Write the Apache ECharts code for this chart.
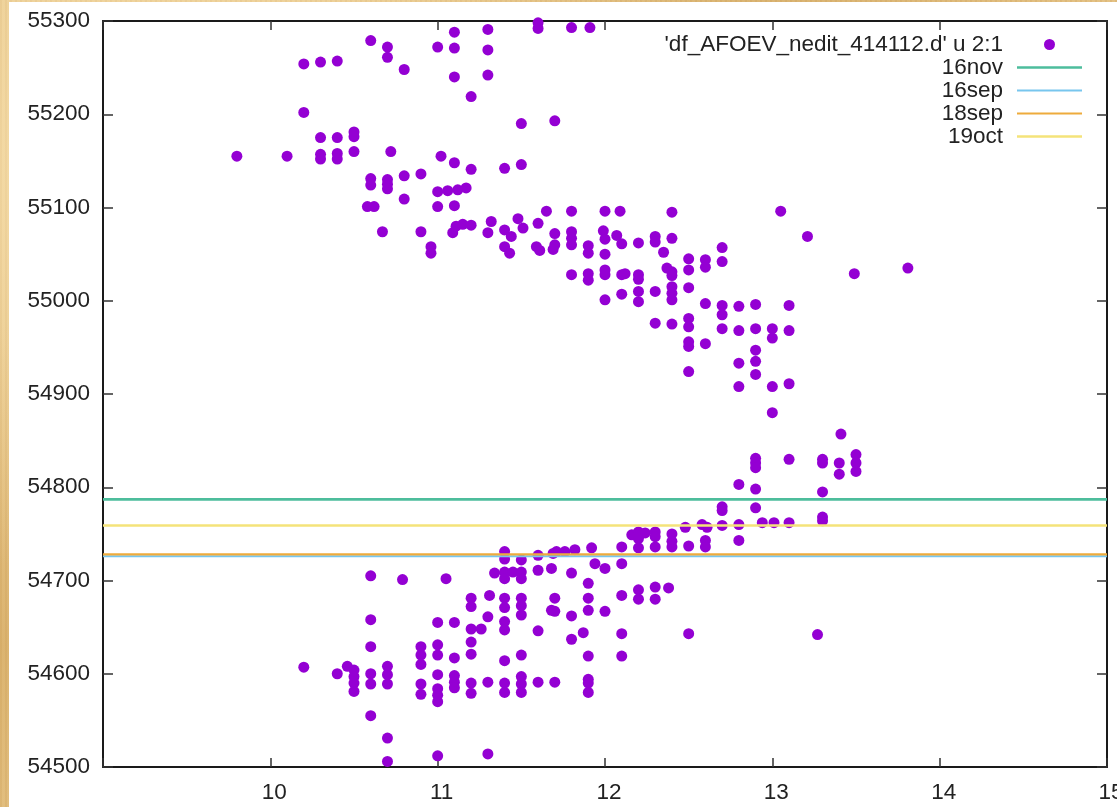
<!DOCTYPE html>
<html>
<head>
<meta charset="utf-8">
<title>414112 light curve</title>
<script src="https://cdn.jsdelivr.net/npm/echarts@6/dist/echarts.min.js"></script>
<style>
  html, body { margin: 0; padding: 0; width: 1117px; height: 807px; overflow: hidden; }
  body {
    background-color: #e6c487;
    background-image:
      radial-gradient(ellipse at 10% 20%, rgba(255, 236, 190, 0.55), rgba(255, 236, 190, 0) 45%),
      radial-gradient(ellipse at 70% 5%, rgba(190, 140, 60, 0.35), rgba(190, 140, 60, 0) 40%),
      radial-gradient(ellipse at 0% 80%, rgba(200, 150, 70, 0.4), rgba(200, 150, 70, 0) 35%),
      repeating-linear-gradient(90deg, rgba(160, 110, 40, 0.08) 0 2px, rgba(255, 240, 200, 0.08) 2px 5px);
  }
  #chart { position: absolute; left: 9px; top: 2px; width: 1108px; height: 805px; background: #ffffff; }
</style>
</head>
<body>
<div id="chart"></div>
<script>
// Axis ranges (magnitude on x, JD - 2400000 on y)
const xRange = [9, 15];
const yRange = [54500, 55300];

// Reference levels drawn as horizontal lines
const levelNames = ['16nov', '16sep', '18sep', '19oct'];
const levelValues = [54787, 54726, 54728, 54759];
const levelColors = ['#4dbd9c', '#78c6ee', '#eeab3c', '#f4e37a'];
const levelWidths = [2.6, 2, 2.2, 2.6];

const dataName = "'df_AFOEV_nedit_414112.d' u 2:1";

// Observations: [magnitude, JD]
const observations = [
  // descending branch
  [9.8, 55155],
  [10.1, 55155],
  [10.2, 55254], [10.2, 55202],
  [10.3, 55256], [10.3, 55175], [10.3, 55157], [10.3, 55152],
  [10.4, 55257], [10.4, 55175], [10.4, 55158], [10.4, 55152],
  [10.5, 55181], [10.5, 55176], [10.5, 55160],
  [10.6, 55279], [10.6, 55131], [10.6, 55124], [10.58, 55101], [10.62, 55101],
  [10.67, 55074],
  [10.7, 55272], [10.7, 55261], [10.72, 55160], [10.7, 55130], [10.7, 55125], [10.7, 55120],
  [10.8, 55248], [10.8, 55134], [10.8, 55109],
  [10.9, 55136], [10.9, 55074],
  [10.96, 55058], [10.96, 55051],
  [11.0, 55272], [11.02, 55155], [11.0, 55117], [11.0, 55101],
  [11.06, 55118], [11.12, 55119], [11.17, 55121],
  [11.1, 55288], [11.1, 55271], [11.1, 55240], [11.1, 55148], [11.1, 55102],
  [11.09, 55073], [11.11, 55080], [11.15, 55082],
  [11.2, 55219], [11.2, 55141], [11.2, 55081],
  [11.3, 55291], [11.3, 55269], [11.3, 55242], [11.32, 55085], [11.3, 55073],
  [11.4, 55142], [11.4, 55076], [11.44, 55069], [11.4, 55058], [11.43, 55051],
  [11.48, 55088], [11.5, 55190], [11.5, 55146], [11.51, 55078],
  [11.6, 55298], [11.6, 55292], [11.6, 55083], [11.59, 55058], [11.61, 55054],
  [11.65, 55096],
  [11.7, 55193], [11.7, 55072], [11.7, 55060], [11.69, 55055],
  [11.8, 55293], [11.8, 55096], [11.8, 55074], [11.8, 55067], [11.8, 55060], [11.8, 55028],
  [11.91, 55293], [11.9, 55059], [11.9, 55051], [11.9, 55029], [11.9, 55022],
  [12.0, 55096], [11.99, 55075], [12.0, 55066], [12.0, 55050], [12.0, 55033], [12.0, 55028], [12.0, 55001],
  [12.09, 55096], [12.07, 55070], [12.1, 55061], [12.1, 55028], [12.12, 55029], [12.1, 55007],
  [12.2, 55062], [12.2, 55028], [12.2, 55023], [12.2, 55010], [12.2, 54999],
  [12.3, 55069], [12.3, 55063], [12.35, 55052], [12.3, 55010], [12.3, 54976],
  [12.4, 55095], [12.4, 55067], [12.37, 55035], [12.4, 55031], [12.4, 55027], [12.4, 55015], [12.4, 55008], [12.4, 55001], [12.4, 54975],
  [12.5, 55045], [12.5, 55033], [12.5, 55014], [12.5, 54981], [12.5, 54972], [12.5, 54956], [12.5, 54951], [12.5, 54924],
  [12.6, 55044], [12.6, 55036], [12.6, 54997], [12.6, 54954],
  [12.7, 55057], [12.7, 55042], [12.7, 54995], [12.7, 54985], [12.7, 54970],
  [12.8, 54994], [12.8, 54968], [12.8, 54933], [12.8, 54908],
  [12.9, 54996], [12.9, 54970], [12.9, 54947], [12.9, 54935], [12.9, 54921],
  [13.0, 54970], [13.0, 54960], [13.0, 54908], [13.0, 54880],
  [13.05, 55096],
  [13.1, 54995], [13.1, 54968], [13.1, 54911],
  [13.21, 55069],
  [13.49, 55029],
  [13.81, 55035],
  // rising branch
  [10.2, 54607],
  [10.4, 54600], [10.46, 54608],
  [10.5, 54604], [10.5, 54597], [10.5, 54590], [10.5, 54581],
  [10.6, 54705], [10.6, 54658], [10.6, 54629], [10.6, 54600], [10.6, 54589], [10.6, 54555],
  [10.7, 54608], [10.7, 54599], [10.7, 54589], [10.7, 54531], [10.7, 54506],
  [10.79, 54701],
  [10.9, 54629], [10.9, 54620], [10.9, 54610], [10.9, 54589], [10.9, 54578],
  [11.0, 54655], [11.0, 54631], [11.0, 54620], [11.0, 54599], [11.0, 54584], [11.0, 54577], [11.0, 54570], [11.0, 54512],
  [11.05, 54702],
  [11.1, 54655], [11.1, 54617], [11.1, 54598], [11.1, 54591], [11.1, 54585],
  [11.2, 54681], [11.2, 54672], [11.2, 54648], [11.26, 54648], [11.2, 54634], [11.2, 54621], [11.2, 54590], [11.2, 54579],
  [11.34, 54708], [11.31, 54684], [11.3, 54661], [11.3, 54591], [11.3, 54514],
  [11.4, 54731], [11.4, 54723], [11.4, 54709], [11.4, 54702], [11.4, 54681], [11.4, 54671], [11.4, 54656], [11.4, 54647], [11.4, 54614], [11.4, 54590], [11.4, 54580],
  [11.45, 54709],
  [11.5, 54722], [11.5, 54709], [11.5, 54702], [11.5, 54681], [11.5, 54673], [11.5, 54663], [11.5, 54620], [11.5, 54597], [11.5, 54589], [11.5, 54580],
  [11.6, 54727], [11.6, 54711], [11.6, 54646], [11.6, 54591],
  [11.69, 54729], [11.71, 54731], [11.68, 54713],
  [11.7, 54681], [11.68, 54668], [11.7, 54667], [11.7, 54591],
  [11.76, 54731], [11.82, 54733], [11.8, 54708], [11.8, 54662], [11.8, 54637],
  [11.92, 54735], [11.94, 54718], [11.9, 54697], [11.9, 54681], [11.9, 54668], [11.87, 54644], [11.9, 54619], [11.9, 54594], [11.9, 54590], [11.9, 54580],
  [12.0, 54713], [12.0, 54667],
  [12.1, 54736], [12.1, 54718], [12.1, 54684], [12.1, 54643], [12.1, 54619],
  [12.16, 54749], [12.2, 54752], [12.24, 54751], [12.2, 54745], [12.2, 54735], [12.2, 54690], [12.2, 54680],
  [12.3, 54752], [12.3, 54747], [12.3, 54736], [12.3, 54693], [12.3, 54680],
  [12.38, 54692],
  [12.4, 54750], [12.4, 54742], [12.4, 54736],
  [12.48, 54757], [12.5, 54737], [12.5, 54643],
  [12.58, 54760], [12.61, 54757], [12.6, 54743], [12.6, 54736],
  [12.7, 54779], [12.7, 54775], [12.7, 54759],
  [12.8, 54803], [12.8, 54760], [12.8, 54743],
  [12.9, 54831], [12.9, 54826], [12.9, 54821], [12.9, 54798], [12.9, 54778], [12.94, 54762],
  [13.01, 54762],
  [13.1, 54830], [13.1, 54762],
  [13.27, 54642],
  [13.3, 54830], [13.3, 54826], [13.3, 54795], [13.3, 54768], [13.3, 54764],
  [13.41, 54857], [13.4, 54826], [13.4, 54814],
  [13.5, 54835], [13.5, 54826], [13.5, 54817]
];

const FONT = "'Liberation Sans', Arial, Helvetica, sans-serif";
const FONT_SIZE = 22.5;
const axisLineStyle = { color: '#1a1a1a', width: 2 };
const tickStyle = { color: '#333333', width: 1.5 };

function xAxisDef(pos, showLabels) {
  return {
    type: 'value', position: pos, min: xRange[0], max: xRange[1], interval: 1,
    axisLine: { show: true, onZero: false, lineStyle: axisLineStyle },
    axisTick: { show: true, inside: true, length: 9, lineStyle: tickStyle },
    axisLabel: {
      show: showLabels, fontSize: FONT_SIZE, color: '#222', fontFamily: FONT, margin: 14,
      padding: [0, 0, 0, 8],
      formatter: v => (v === xRange[0] ? '' : String(v))
    },
    splitLine: { show: false }
  };
}
function yAxisDef(pos, showLabels) {
  return {
    type: 'value', position: pos, min: yRange[0], max: yRange[1], interval: 100,
    axisLine: { show: true, onZero: false, lineStyle: axisLineStyle },
    axisTick: { show: true, inside: true, length: 10, lineStyle: tickStyle },
    axisLabel: {
      show: showLabels, fontSize: FONT_SIZE, color: '#222', fontFamily: FONT, margin: 13,
      formatter: v => String(v)
    },
    splitLine: { show: false }
  };
}

const series = [{
  name: dataName,
  type: 'scatter',
  data: observations,
  symbol: 'circle',
  symbolSize: 11,
  itemStyle: { color: '#9400d3', opacity: 1 },
  silent: true,
  z: 2
}];
levelNames.forEach((name, i) => {
  series.push({
    name: name,
    type: 'line',
    data: [[xRange[0], levelValues[i]], [xRange[1], levelValues[i]]],
    symbol: 'none',
    lineStyle: { color: levelColors[i], width: levelWidths[i] },
    itemStyle: { color: levelColors[i] },
    silent: true,
    z: 3
  });
});

// Legend entries: a dot for the observations, a plain stroke for each level
const legendData = [{ name: dataName }].concat(levelNames.map((name, i) => ({
  name: name,
  icon: 'path://M0,0H65V' + levelWidths[i] + 'H0Z'
})));

const chart = echarts.init(document.getElementById('chart'), null, { renderer: 'canvas' });
chart.setOption({
  animation: false,
  backgroundColor: '#ffffff',
  textStyle: { fontFamily: FONT },
  grid: { left: 94, top: 19, right: 10, bottom: 40, containLabel: false, outerBoundsMode: 'none' },
  xAxis: [xAxisDef('bottom', true), xAxisDef('top', false)],
  yAxis: [yAxisDef('left', true), yAxisDef('right', false)],
  legend: {
    orient: 'vertical', right: 35, top: 31, align: 'right',
    itemWidth: 65, itemHeight: 11, itemGap: 0, padding: 0,
    selectedMode: false,
    textStyle: { fontSize: FONT_SIZE, color: '#222', fontFamily: FONT, lineHeight: 22, padding: [0, 9, 0, 0] },
    data: legendData
  },
  series: series
});
</script>
</body>
</html>
